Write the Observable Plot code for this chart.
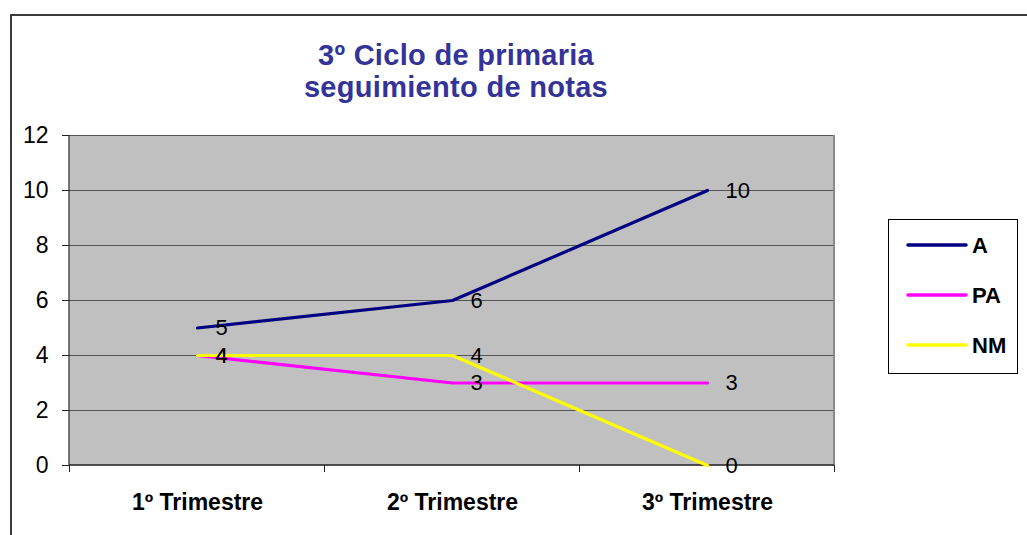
<!DOCTYPE html>
<html>
<head>
<meta charset="utf-8">
<script src="https://cdn.jsdelivr.net/npm/d3@7"></script>
<script src="https://cdn.jsdelivr.net/npm/@observablehq/plot@0.6"></script>
<style>
  html, body { margin: 0; padding: 0; background: #fff; }
  body { width: 1027px; height: 535px; position: relative; overflow: hidden; font-family: "Liberation Sans", Arial, sans-serif; }
  #border { position: absolute; left: 10px; top: 14px; width: 1100px; height: 600px; border-top: 2px solid #3a3a3a; border-left: 2px solid #3a3a3a; box-sizing: border-box; }
  #chart { position: absolute; left: 0; top: 0; }
  #title { position: absolute; left: 256px; width: 400px; top: 39px; text-align: center; font-weight: bold; font-size: 29px; line-height: 32px; color: #333399; letter-spacing: 0.3px; }
  #legend { position: absolute; left: 888px; top: 219px; width: 130px; height: 155px; border: 1px solid #000; background: #fff; box-sizing: border-box; }
</style>
</head>
<body>
<div id="border"></div>
<div id="chart"></div>
<div id="title">3º Ciclo de primaria<br>seguimiento de notas</div>
<div id="legend"></div>
<script>
const categories = ["1º Trimestre", "2º Trimestre", "3º Trimestre"];
const seriesNames = ["A", "PA", "NM"];
const seriesColors = ["#000080", "#FF00FF", "#FFFF00"];
const valuesA = [5, 6, 10];
const valuesPA = [4, 3, 3];
const valuesNM = [4, 4, 0];
const yTicks = [0, 2, 4, 6, 8, 10, 12];

const allValues = [valuesA, valuesPA, valuesNM];
const data = [];
seriesNames.forEach((s, i) => {
  categories.forEach((c, j) => data.push({series: s, cat: c, value: allValues[i][j]}));
});

function frameMark(index, scales, values, dims) {
  const x = scales.x, y = scales.y;
  const xs = categories.map(c => x(c));
  const step = xs[1] - xs[0];
  const bounds = [xs[0] - step / 2, ...xs.map(v => v + step / 2)];
  const left = dims.marginLeft, right = dims.width - dims.marginRight;
  const y0 = y(0), yTop = y(12);
  const g = d3.create("svg:g");
  g.append("line").attr("x1", right).attr("x2", right).attr("y1", yTop).attr("y2", y0)
    .attr("stroke", "#8a8a8a").attr("stroke-width", 2);
  g.append("line").attr("x1", left).attr("x2", left).attr("y1", yTop).attr("y2", y0)
    .attr("stroke", "#222").attr("stroke-width", 1.2);
  g.append("line").attr("x1", left).attr("x2", right).attr("y1", y0).attr("y2", y0)
    .attr("stroke", "#222").attr("stroke-width", 1.5);
  g.selectAll("line.tk").data(bounds).join("line").attr("class", "tk")
    .attr("x1", d => d).attr("x2", d => d).attr("y1", y0).attr("y2", y0 + 7)
    .attr("stroke", "#222").attr("stroke-width", 1);
  return g.node();
}

const plot = Plot.plot({
  width: 1027,
  height: 535,
  marginLeft: 69,
  marginRight: 193,
  marginTop: 135,
  marginBottom: 70,
  style: {fontFamily: "'Liberation Sans', Arial, sans-serif", background: "transparent", color: "#000"},
  x: {type: "point", domain: categories, padding: 0.5},
  y: {domain: [0, 12]},
  marks: [
    Plot.frame({fill: "#C0C0C0"}),
    Plot.ruleY(yTicks.filter(d => d > 0), {stroke: "#555", strokeWidth: 1.2}),
    frameMark,
    Plot.axisY({ticks: yTicks, tickSize: 7, tickPadding: 14, fontSize: 23, label: null, stroke: "#222", style: {letterSpacing: "1px"}}),
    Plot.axisX({tickSize: 0, tickPadding: 28, fontSize: 23, fontWeight: "bold", label: null, style: {letterSpacing: "0.6px"}}),
    ...seriesNames.map((s, i) => Plot.line(data.filter(d => d.series === s), {
      x: "cat", y: "value", stroke: seriesColors[i], strokeWidth: 3.2, strokeLinecap: "round", strokeLinejoin: "miter"
    })),
    Plot.text(data, {x: "cat", y: "value", text: d => String(d.value), dx: 18, textAnchor: "start", fontSize: 22, fill: "#000"})
  ]
});
document.getElementById("chart").appendChild(plot);

const lg = d3.select("#legend").append("svg").attr("width", 128).attr("height", 153);
seriesNames.forEach((s, i) => {
  const yy = 25 + i * 50;
  lg.append("line").attr("x1", 19).attr("x2", 77).attr("y1", yy).attr("y2", yy)
    .attr("stroke", seriesColors[i]).attr("stroke-width", 3.5).attr("stroke-linecap", "round");
  lg.append("text").attr("x", 83).attr("y", yy).attr("dy", "0.36em")
    .attr("font-family", "'Liberation Sans', Arial, sans-serif").attr("font-weight", "bold")
    .attr("font-size", 22).text(s);
});
</script>
</body>
</html>
